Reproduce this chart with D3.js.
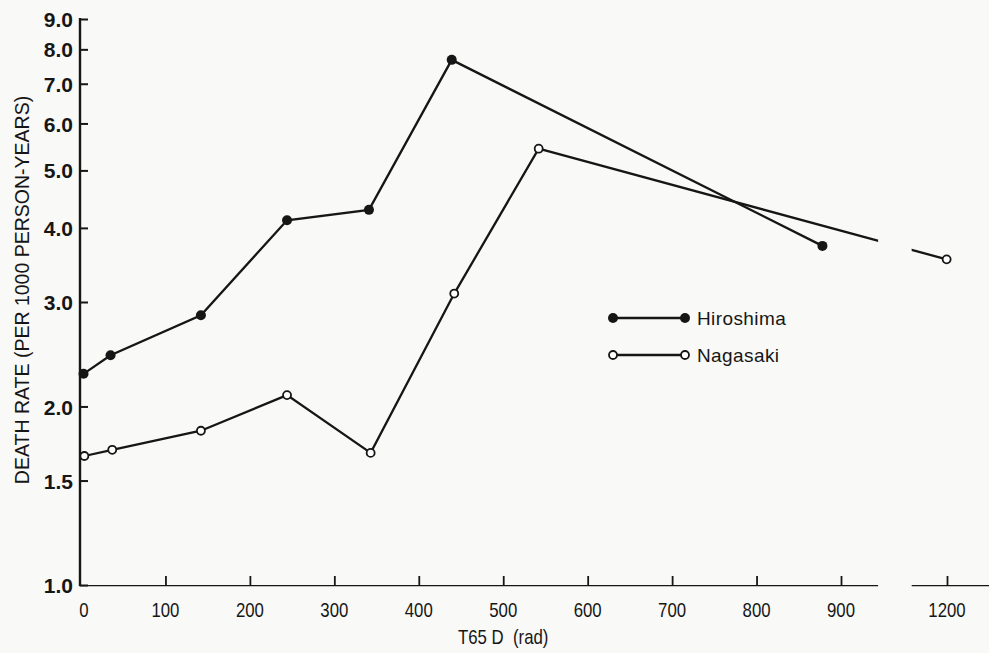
<!DOCTYPE html>
<html>
<head>
<meta charset="utf-8">
<script src="https://cdn.jsdelivr.net/npm/d3@7"></script>
<style>
  body { margin:0; background:#f9f9f7; }
  svg { display:block; }
</style>
</head>
<body>
<svg width="989" height="653"></svg>
<script>
// valeurs (T65 D en rad, taux pour 1000 personnes-années)
const hiroshimaDose = [3, 35, 142, 244, 341, 439, 878];
const hiroshimaRate = [2.27, 2.44, 2.85, 4.12, 4.29, 7.68, 3.73];
const nagasakiDose = [4, 37, 142, 244, 343, 442, 542, 1199];
const nagasakiRate = [1.65, 1.69, 1.82, 2.09, 1.67, 3.10, 5.44, 3.54];

const xTicks = [100, 200, 300, 400, 500, 600, 700, 800, 900, 1200];
const xLabels = [0, 100, 200, 300, 400, 500, 600, 700, 800, 900, 1200];
const yTicks = [1.0, 1.5, 2.0, 3.0, 4.0, 5.0, 6.0, 7.0, 8.0, 9.0];
const seriesNames = ["Hiroshima", "Nagasaki"];
const axisBreak = [1005, 1100]; // coupure de l'axe entre 900 et 1200

const svg = d3.select("svg");
const W = 989, H = 653;
const bg = "#f9f9f7", ink = "#161616";
const narrow = 0.84; // police étroite simulée

svg.append("rect").attr("width", W).attr("height", H).attr("fill", bg);

// échelles : x linéaire avec un saut après 900, y logarithmique
const x = d3.scaleLinear().domain([0, 900, 1200]).range([81, 841, 947]);
const y = d3.scaleLog().domain([1, 9]).range([585, 19]);

// zone de coupure
svg.append("clipPath").attr("id", "cut")
  .selectAll("rect")
  .data([[0, x(axisBreak[0])], [x(axisBreak[1]), W]])
  .enter().append("rect")
  .attr("x", d => d[0]).attr("width", d => d[1] - d[0])
  .attr("y", 0).attr("height", H);

// axe y
const yAxis = d3.axisLeft(y)
  .tickValues(yTicks)
  .tickFormat(d3.format(".1f"))
  .tickSize(-8)
  .tickPadding(7);
const gy = svg.append("g").attr("transform", `translate(${x(0) - 1},0)`).call(yAxis);
gy.select(".domain").remove();
gy.selectAll(".tick line").attr("stroke", ink).attr("stroke-width", 2);
gy.selectAll(".tick text")
  .attr("fill", ink)
  .attr("font-family", "Liberation Sans, Arial, sans-serif")
  .attr("font-weight", "bold")
  .attr("font-size", 21)
  .attr("dy", "0.36em");
gy.append("line")
  .attr("x1", 0).attr("x2", 0)
  .attr("y1", y(9) - 1).attr("y2", y(1) + 1)
  .attr("stroke", ink).attr("stroke-width", 2.4);

// axe x
const xAxis = d3.axisBottom(x)
  .tickValues(xTicks)
  .tickFormat("")
  .tickSize(-9);
const gx = svg.append("g").attr("transform", `translate(0,${y(1)})`).call(xAxis);
gx.select(".domain").remove();
gx.selectAll(".tick line").attr("stroke", ink).attr("stroke-width", 1.8);
gx.append("line")
  .attr("clip-path", "url(#cut)")
  .attr("x1", x(0) - 2).attr("x2", W)
  .attr("y1", 0).attr("y2", 0)
  .attr("stroke", ink).attr("stroke-width", 2.4);

svg.append("g").selectAll("text")
  .data(xLabels)
  .enter().append("text")
  .attr("transform", d => `translate(${x(d) + (d === 0 ? 3 : 0)},${y(1) + 32}) scale(${narrow},1)`)
  .attr("text-anchor", "middle")
  .attr("font-family", "Liberation Sans, Arial, sans-serif")
  .attr("font-size", 20)
  .attr("fill", ink)
  .text(d => d);

// titres des axes
svg.append("text")
  .attr("transform", `translate(29,290) rotate(-90)`)
  .attr("text-anchor", "middle")
  .attr("font-family", "Liberation Sans, Arial, sans-serif")
  .attr("font-size", 19.5)
  .attr("fill", ink)
  .text("DEATH RATE (PER 1000 PERSON-YEARS)");

svg.append("text")
  .attr("transform", `translate(${x(500)},644) scale(${narrow},1)`)
  .attr("text-anchor", "middle")
  .attr("font-family", "Liberation Sans, Arial, sans-serif")
  .attr("font-size", 20)
  .attr("fill", ink)
  .attr("xml:space", "preserve")
  .text("T65 D  (rad)");

// courbes
const hiro = hiroshimaDose.map((d, i) => ({dose: d, rate: hiroshimaRate[i]}));
const naga = nagasakiDose.map((d, i) => ({dose: d, rate: nagasakiRate[i]}));

const line = d3.line().x(d => x(d.dose)).y(d => y(d.rate));

svg.append("path").datum(hiro)
  .attr("d", line)
  .attr("fill", "none").attr("stroke", ink).attr("stroke-width", 2.3);
svg.append("path").datum(naga)
  .attr("clip-path", "url(#cut)")
  .attr("d", line)
  .attr("fill", "none").attr("stroke", ink).attr("stroke-width", 2.3);

svg.append("g").selectAll("circle")
  .data(hiro).enter().append("circle")
  .attr("cx", d => x(d.dose)).attr("cy", d => y(d.rate))
  .attr("r", 5).attr("fill", ink);
svg.append("g").selectAll("circle")
  .data(naga).enter().append("circle")
  .attr("cx", d => x(d.dose)).attr("cy", d => y(d.rate))
  .attr("r", 4).attr("fill", "#fff").attr("stroke", ink).attr("stroke-width", 1.8);

// légende
const leg = svg.append("g").selectAll("g")
  .data(seriesNames)
  .enter().append("g")
  .attr("transform", (d, i) => `translate(613,${318 + i * 37})`);
leg.append("line")
  .attr("x1", 0).attr("x2", 72)
  .attr("stroke", ink).attr("stroke-width", 2.3);
leg.each(function(d, i) {
  d3.select(this).selectAll("circle")
    .data([0, 72]).enter().append("circle")
    .attr("cx", c => c).attr("cy", 0)
    .attr("r", i === 0 ? 5 : 4)
    .attr("fill", i === 0 ? ink : "#fff")
    .attr("stroke", ink).attr("stroke-width", i === 0 ? 0 : 1.8);
});
leg.append("text")
  .attr("x", 84).attr("y", 0).attr("dy", "0.36em")
  .attr("font-family", "Liberation Sans, Arial, sans-serif")
  .attr("font-size", 19)
  .attr("letter-spacing", 0.4)
  .attr("fill", ink)
  .text(d => d);
</script>
</body>
</html>
